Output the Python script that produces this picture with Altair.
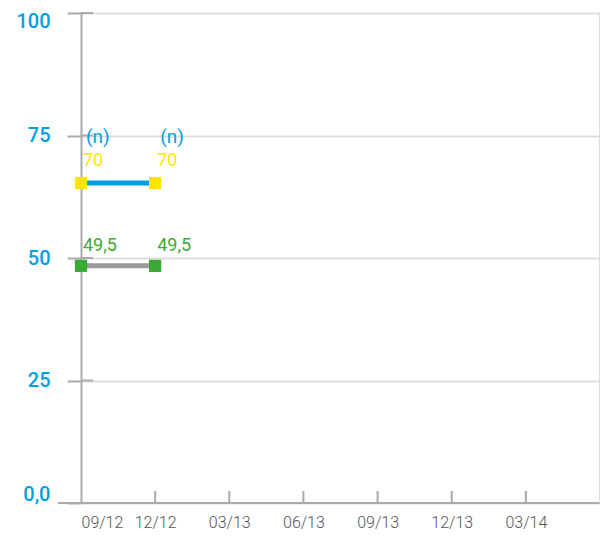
import altair as alt
import pandas as pd

x_labels = ["09/12", "12/12", "03/13", "06/13", "09/13", "12/13", "03/14", ""]
y_ticks = [0, 25, 50, 75, 100]

x_idx = [0, 1]
blue_y = [65.3, 65.3]
blue_labels = ["70", "70"]
n_labels = ["(n)", "(n)"]
green_y = [48.4, 48.4]
green_labels = ["49,5", "49,5"]

FONT = "Roboto"
BLUE = "#009FE3"
YELLOW = "#FFE500"
GREEN = "#3AAA35"
AX = "#AAAAAA"
GRID = "#DDDDDD"

W, H = 519, 490

df_blue = pd.DataFrame({"i": x_idx, "v": blue_y, "lab": blue_labels, "n": n_labels})
df_green = pd.DataFrame({"i": x_idx, "v": green_y, "lab": green_labels})
df_yt = pd.DataFrame({"t": y_ticks})
df_xt = pd.DataFrame({"i": list(range(1, len(x_labels) - 1))})

label_expr = "[" + ",".join("'%s'" % s for s in x_labels) + "][datum.value]"

xs = alt.Scale(domain=[0, len(x_labels) - 1], nice=False, zero=False)
ys = alt.Scale(domain=[0, 100], nice=False)

x_enc = alt.X("i:Q", scale=xs, axis=alt.Axis(
    values=list(range(len(x_labels) - 1)), labelExpr=label_expr, domain=False, ticks=False,
    grid=False, labelFont=FONT, labelFontSize=16, labelFontWeight=300, labelColor="#555555",
    labelPadding=11, title=None))

y_axis = alt.Axis(
    values=y_ticks, title=None, domainColor=AX, domainWidth=2, tickColor=AX, tickWidth=2,
    tickSize=14, gridColor=GRID, gridWidth=2, labelFont=FONT, labelFontSize=20,
    labelFontWeight=500,
    labelColor=BLUE, labelPadding=17,
    labelExpr="datum.value == 0 ? '0,0' : datum.label",
    labelOffset={"condition": [{"test": "datum.value == 0", "value": -9},
                               {"test": "datum.value == 100", "value": 8}],
                 "value": 0})

base_axes = alt.Chart(df_yt).mark_rule(color=AX, strokeWidth=2).encode(
    y=alt.Y("t:Q", scale=ys, axis=y_axis), x=alt.value(0), x2=alt.value(12))

bottom = alt.Chart(df_yt).mark_rule(color=AX, strokeWidth=2).encode(
    x=alt.value(-23), x2=alt.value(W), y=alt.value(H))
right = alt.Chart(df_yt).mark_rule(color=GRID, strokeWidth=2).encode(
    x=alt.value(W), y=alt.value(0), y2=alt.value(H))
xticks = alt.Chart(df_xt).mark_rule(color=AX, strokeWidth=2).encode(
    x=x_enc, y=alt.value(H - 12), y2=alt.value(H))

blue_line = alt.Chart(df_blue).mark_line(color=BLUE, strokeWidth=5).encode(
    x=alt.X("i:Q", scale=xs), y=alt.Y("v:Q", scale=ys))
blue_pts = alt.Chart(df_blue).mark_square(color=YELLOW, size=150, opacity=1).encode(
    x=alt.X("i:Q", scale=xs), y=alt.Y("v:Q", scale=ys))
blue_txt = alt.Chart(df_blue).mark_text(color=YELLOW, font=FONT, fontSize=18, align="left",
                                        dx=2, dy=-22).encode(
    x=alt.X("i:Q", scale=xs), y=alt.Y("v:Q", scale=ys), text="lab:N")
n_txt = alt.Chart(df_blue).mark_text(color=BLUE, font=FONT, fontSize=19,
                                     align="left", dx=5, dy=-46).encode(
    x=alt.X("i:Q", scale=xs), y=alt.Y("v:Q", scale=ys), text="n:N")

green_line = alt.Chart(df_green).mark_line(color="#999999", strokeWidth=5).encode(
    x=alt.X("i:Q", scale=xs), y=alt.Y("v:Q", scale=ys))
green_pts = alt.Chart(df_green).mark_square(color=GREEN, size=150, opacity=1).encode(
    x=alt.X("i:Q", scale=xs), y=alt.Y("v:Q", scale=ys))
green_txt = alt.Chart(df_green).mark_text(color=GREEN, font=FONT, fontSize=18, align="left",
                                          dx=2, dy=-20).encode(
    x=alt.X("i:Q", scale=xs), y=alt.Y("v:Q", scale=ys), text="lab:N")

chart = alt.layer(
    base_axes, bottom, right, xticks,
    blue_line, blue_pts, blue_txt, n_txt,
    green_line, green_pts, green_txt,
).properties(
    width=W, height=H,
    autosize=alt.AutoSizeParams(type="none"),
    padding={"left": 73, "top": 5, "right": 0, "bottom": 35},
).configure_view(stroke=None).configure_axis(labelFont=FONT)

chart.save("out.html", embed_options={"renderer": "svg", "actions": False})
